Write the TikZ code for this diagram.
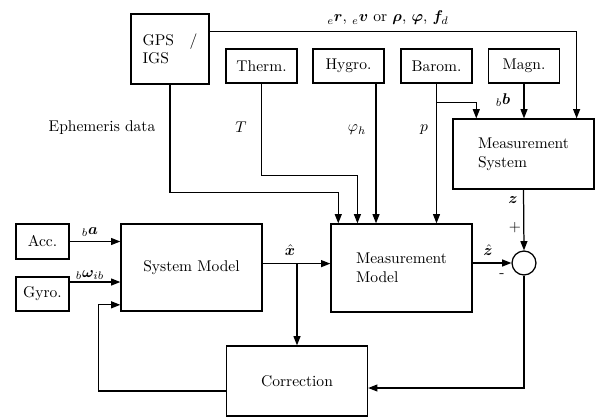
\documentclass[tikz,border=0pt]{standalone}
\usepackage{bm}
\usetikzlibrary{arrows.meta}

\begin{document}
\begin{tikzpicture}[x=0.643pt, y=-0.643pt, ->, >={Triangle[length=6pt,width=4.5pt]}, thick,
    block/.style={rectangle, draw, minimum width=90.7pt, align=left},
    sensor/.style={rectangle, draw, minimum width=45.7pt, minimum height=21.9pt},
    sumnode/.style={circle, draw, minimum size=15.4pt, inner sep=0pt}]

    \useasboundingbox (0,0) rectangle (595,417);

    % sensors
    \node[block, minimum width=50.2pt, minimum height=45pt] (gps) at (170,49) {GPS\quad/\\IGS};
    \node[sensor] (therm) at (261.5,66) {Therm.};
    \node[sensor] (hygro) at (348.5,66) {Hygro.};
    \node[sensor] (barom) at (436.5,66) {Barom.};
    \node[sensor] (magn) at (524,66) {Magn.};
    \node[sensor, minimum width=34pt, minimum height=22.5pt] (acc) at (42.5,241.5) {Acc.};
    \node[sensor, minimum width=34pt, minimum height=22pt] (gyro) at (42.5,294) {Gyro.};

    % filter blocks
    \node[block, minimum height=45pt] (ms) at (523.5,154) {Measurement\\System};
    \node[block, minimum height=56.6pt] (mm) at (401.5,268) {Measurement\\Model};
    \node[block, minimum height=56pt] (sm) at (191.5,267.5) {System Model};
    \node[block, minimum height=45pt] (corr) at (297,381) {Correction};
    \node[sumnode] (sum) at (524,263) {};

    % signal labels
    \node (lgps) at (388,18) {${}_e\bm{r}$, ${}_e\bm{v}$ or $\bm{\rho}$, $\bm{\varphi}$, $\bm{f}_d$};
    \node (leph) at (102,128) {Ephemeris data};
    \node (lT) at (241,127) {$T$};
    \node (lphi) at (357,130) {$\varphi_h$};
    \node (lp) at (424,130) {$p$};
    \node (lb) at (503,100) {${}_b\bm{b}$};
    \node (la) at (90,232) {${}_b\bm{a}$};
    \node (lw) at (90,275) {${}_b\bm{\omega}_{ib}$};
    \node (lx) at (290,250) {$\hat{\bm{x}}$};
    \node (lz) at (513,200) {$\bm{z}$};
    \node (lplus) at (515,228) {$+$};
    \node (lzh) at (488,250) {$\hat{\bm{z}}$};
    \node (lminus) at (502,276) {-};

    \draw ([yshift=-11.6pt]gps.north east) -| ([xshift=-11.6pt]ms.north east);
    \draw (gps.south) -- ++(0,108) -| ([xshift=5.1pt]mm.north west);
    \draw (therm.south) -- ++(0,92) -| ([xshift=17.4pt]mm.north west);
    \draw ([xshift=17.7pt]hygro.south) -- ([xshift=17.7pt]hygro.south |- mm.north);
    \draw (barom.south) -- (barom.south |- mm.north);
    \draw (barom.south) ++(0,19) -| ([xshift=15.4pt]ms.north west);
    \draw (magn.south) -- (magn.south |- ms.north);

    \draw (acc.east) -- (acc.east -| sm.west);
    \draw ([yshift=7.7pt]gyro.east) -- ([yshift=7.7pt]gyro.east -| sm.west);
    \coordinate (xh) at ([yshift=2.5pt]sm.east);
    \draw (xh) -- (xh -| mm.west);
    \draw (xh -| corr.north) -- (corr.north);
    \draw ([yshift=-6.4pt]corr.west) -- ++(-127,0) |- ([yshift=-24pt]sm.west);
    \draw (ms.south) -- (sum.north);
    \draw (sum.west -| mm.east) -- (sum.west);
    \draw (sum.south) |- ([yshift=-4.5pt]corr.east);

\end{tikzpicture}
\end{document}
